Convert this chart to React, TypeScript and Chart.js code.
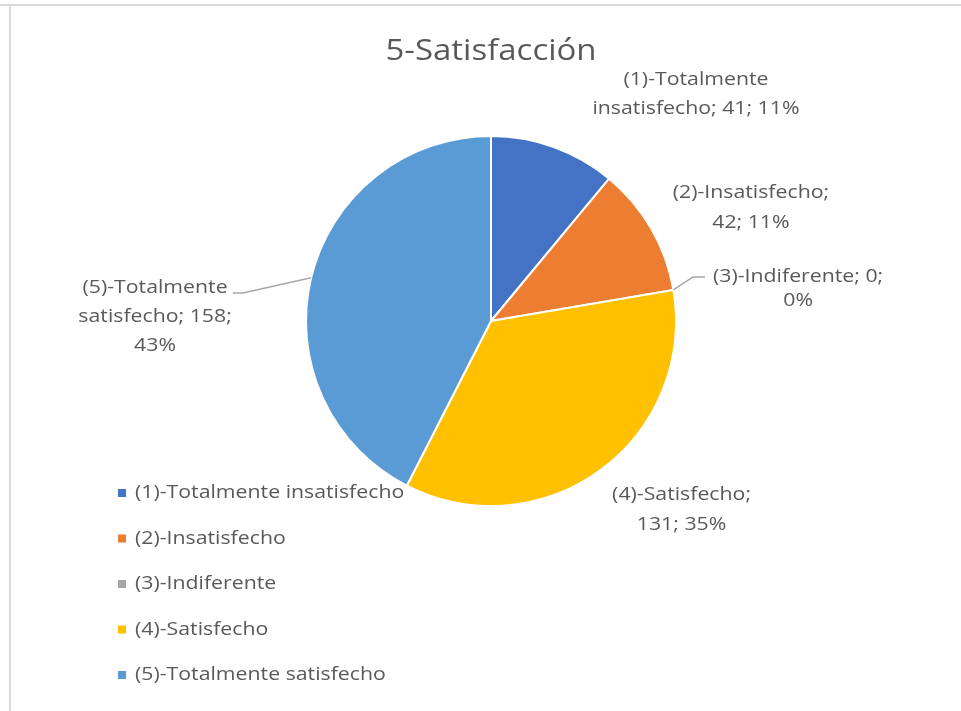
import React, { useEffect, useRef } from "react";
import { Chart, registerables } from "chart.js";

Chart.register(...registerables);

const titleText = "5-Satisfacción";
const categories = [
  "(1)-Totalmente insatisfecho",
  "(2)-Insatisfecho",
  "(3)-Indiferente",
  "(4)-Satisfecho",
  "(5)-Totalmente satisfecho",
];
const values = [41, 42, 0, 131, 158];
const percentLabels = ["11%", "11%", "0%", "35%", "43%"];
const colors = ["#4472C4", "#ED7D31", "#A5A5A5", "#FFC000", "#5B9BD5"];

// number of words on each wrapped line of each data label
const labelWrap = [[1, 3], [1, 2], [2, 1], [1, 2], [1, 2, 1]];
// label block centre relative to pie centre, in units of the radius
const labelPos = [
  [1.108, -1.225],
  [1.405, -0.611],
  [1.66, -0.175],
  [1.03, 1.02],
  [-1.816, -0.022],
];
const labelLineHeight = [29, 30, 24, 30, 29];
// leader line elbow (relative to centre, radius units) and horizontal tail length
const leaders: (null | { ex: number; ey: number; tail: number })[] = [
  null,
  null,
  { ex: 1.092, ey: -0.238, tail: 12 },
  null,
  { ex: -1.341, ey: -0.151, tail: -10 },
];

const FONT = "'Open Sans', 'DejaVu Sans', sans-serif";
const TEXT = "#595959";
const STRETCH = 1.12;

function buildLines(i: number): string[] {
  const words = `${categories[i]}; ${values[i]}; ${percentLabels[i]}`.split(" ");
  const out: string[] = [];
  let k = 0;
  for (const n of labelWrap[i]) {
    out.push(words.slice(k, k + n).join(" "));
    k += n;
  }
  return out;
}

function drawText(ctx: CanvasRenderingContext2D, t: string, x: number, y: number, sx: number) {
  ctx.save();
  ctx.translate(x, y);
  ctx.scale(sx, 1);
  ctx.fillText(t, 0, 0);
  ctx.restore();
}

const framePlugin = {
  id: "frame",
  beforeDraw(chart: any) {
    const { ctx, width, height } = chart;
    ctx.save();
    ctx.fillStyle = "#ffffff";
    ctx.fillRect(0, 0, width, height);
    ctx.fillStyle = "#d9d9d9";
    ctx.fillRect(0, 4, width, 2);
    ctx.fillRect(9, 4, 2, height - 4);
    // title
    ctx.font = `30px ${FONT}`;
    ctx.fillStyle = TEXT;
    ctx.textAlign = "center";
    ctx.textBaseline = "middle";
    const area = chart.chartArea;
    drawText(ctx, titleText, (area.left + area.right) / 2, 51, 1.1);
    ctx.restore();
  },
};

const labelsPlugin = {
  id: "excelLabels",
  afterDatasetsDraw(chart: any) {
    const { ctx } = chart;
    const meta = chart.getDatasetMeta(0);
    const arc0 = meta.data[0];
    if (!arc0) return;
    const cx = arc0.x;
    const cy = arc0.y;
    const R = arc0.outerRadius;
    ctx.save();
    ctx.font = `19px ${FONT}`;
    ctx.fillStyle = TEXT;
    ctx.textAlign = "center";
    ctx.textBaseline = "middle";
    meta.data.forEach((arc: any, i: number) => {
      const lines = buildLines(i);
      const lx = cx + labelPos[i][0] * R;
      const ly = cy + labelPos[i][1] * R;
      const lh = labelLineHeight[i];
      const top = ly - ((lines.length - 1) * lh) / 2;
      lines.forEach((t, j) => drawText(ctx, t, lx, top + j * lh, STRETCH));
      const ld = leaders[i];
      if (ld) {
        const mid = (arc.startAngle + arc.endAngle) / 2;
        const sx = cx + Math.cos(mid) * R;
        const sy = cy + Math.sin(mid) * R;
        const ex = cx + ld.ex * R;
        const ey = cy + ld.ey * R;
        ctx.beginPath();
        ctx.strokeStyle = "#a6a6a6";
        ctx.lineWidth = 1.5;
        ctx.moveTo(sx, sy);
        ctx.lineTo(ex, ey);
        ctx.lineTo(ex + ld.tail, ey);
        ctx.stroke();
      }
    });
    // legend
    const lx = 118;
    const ly0 = 493;
    const step = 45.5;
    ctx.textAlign = "left";
    categories.forEach((c, i) => {
      const y = ly0 + i * step;
      ctx.fillStyle = colors[i];
      ctx.fillRect(lx, y - 4, 8, 8);
      ctx.fillStyle = TEXT;
      drawText(ctx, c, lx + 17, y, STRETCH);
    });
    ctx.restore();
  },
};

export default function App() {
  const ref = useRef<HTMLCanvasElement | null>(null);
  useEffect(() => {
    if (!ref.current) return;
    const chart = new Chart(ref.current, {
      type: "pie",
      data: {
        labels: categories,
        datasets: [
          {
            data: values,
            backgroundColor: colors,
            borderColor: "#ffffff",
            borderWidth: 2,
            hoverOffset: 0,
          },
        ],
      },
      options: {
        responsive: false,
        animation: false,
        devicePixelRatio: 1,
        layout: { padding: { top: 135, left: 305, right: 284, bottom: 204 } },
        plugins: {
          legend: { display: false },
          tooltip: { enabled: false },
          title: { display: false, text: titleText },
        },
      },
      plugins: [framePlugin, labelsPlugin],
    });
    return () => chart.destroy();
  }, []);
  return (
    <div style={{ position: "fixed", left: 0, top: 0, width: 961, height: 711, background: "#fff" }}>
      <canvas ref={ref} width={961} height={711} style={{ width: 961, height: 711, display: "block" }} />
    </div>
  );
}
